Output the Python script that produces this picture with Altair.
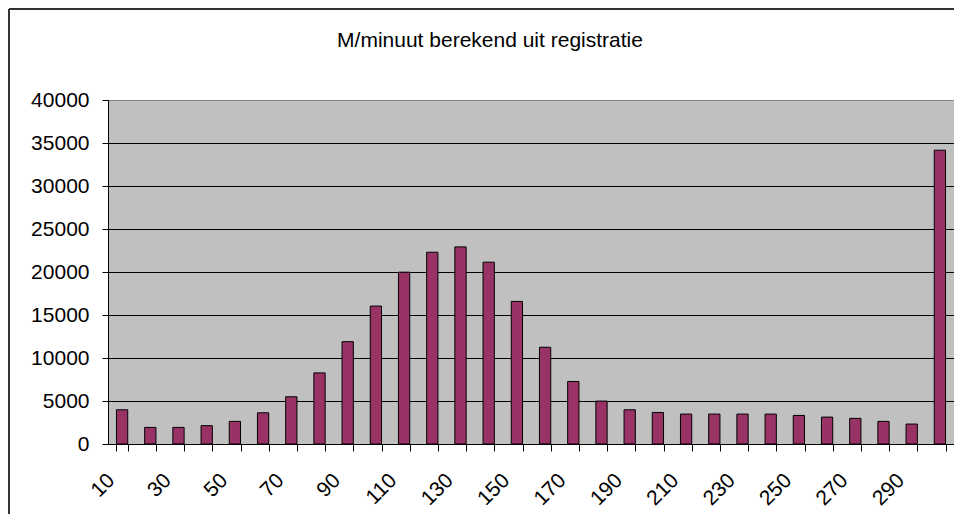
import altair as alt
import pandas as pd

categories = [10, 20, 30, 40, 50, 60, 70, 80, 90, 100,
              110, 120, 130, 140, 150, 160, 170, 180, 190, 200,
              210, 220, 230, 240, 250, 260, 270, 280, 290, 300]
values = [3980, 1930, 1930, 2130, 2630, 3630, 5490, 8270, 11900, 16040,
          19980, 22300, 22920, 21140, 16580, 11250, 7270, 4990, 3980, 3670,
          3480, 3480, 3480, 3480, 3320, 3130, 2980, 2630, 2320, 34160]
y_ticks = [0, 5000, 10000, 15000, 20000, 25000, 30000, 35000, 40000]
title_text = "M/minuut berekend uit registratie"

df = pd.DataFrame({"m": categories, "n": values})
FONT = "Liberation Sans, Arial, sans-serif"
W, H = 846, 344

bars = alt.Chart(df).mark_bar(
    color="#993366", stroke="#000000", strokeWidth=1
).encode(
    x=alt.X(
        "m:O",
        scale=alt.Scale(paddingInner=0.6, paddingOuter=0.3),
        axis=alt.Axis(
            title=None,
            labelAngle=-45,
            labelAlign="right",
            labelBaseline="middle",
            labelOffset=-11,
            labelPadding=26,
            labelOverlap=False,
            labelExpr="datum.value % 20 == 10 ? datum.label : ''",
            tickBand="extent",
            tickSize=7,
            tickColor="#000000",
            domainColor="#000000",
            labelFont=FONT,
            labelFontSize=21,
            labelColor="#000000",
            grid=False,
        ),
    ),
    y=alt.Y(
        "n:Q",
        scale=alt.Scale(domain=[0, 40000], nice=False),
        axis=alt.Axis(
            title=None,
            values=y_ticks,
            format="d",
            tickSize=6,
            tickColor="#000000",
            domainColor="#000000",
            labelPadding=13,
            labelFont=FONT,
            labelFontSize=21,
            labelColor="#000000",
            grid=True,
            gridColor={"condition": {"test": "datum.value >= 40000", "value": "#808080"},
                       "value": "#000000"},
            gridOpacity=1,
            gridWidth=1,
        ),
    ),
)

one = pd.DataFrame({"t": [title_text]})
left_border = alt.Chart(one).mark_rule(color="#333333", strokeWidth=2).encode(
    x=alt.value(-99), y=alt.value(-91), y2=alt.value(430)
)
top_border = alt.Chart(one).mark_rule(color="#333333", strokeWidth=2).encode(
    x=alt.value(-99), x2=alt.value(W + 10), y=alt.value(-91)
)
title = alt.Chart(one).mark_text(
    font=FONT, fontSize=21, color="#000000", align="center", baseline="middle"
).encode(
    text="t:N", x=alt.value(382), y=alt.value(-59)
)

chart = alt.layer(bars, left_border, top_border, title).properties(
    width=W,
    height=H,
    padding={"left": 100, "top": 92, "right": 0, "bottom": 70},
    autosize=alt.AutoSizeParams(type="none"),
    background="#FFFFFF",
).configure_view(
    fill="#C0C0C0", stroke="#808080", strokeWidth=1
)

chart.save("out.html", embed_options={"renderer": "svg", "actions": False})
